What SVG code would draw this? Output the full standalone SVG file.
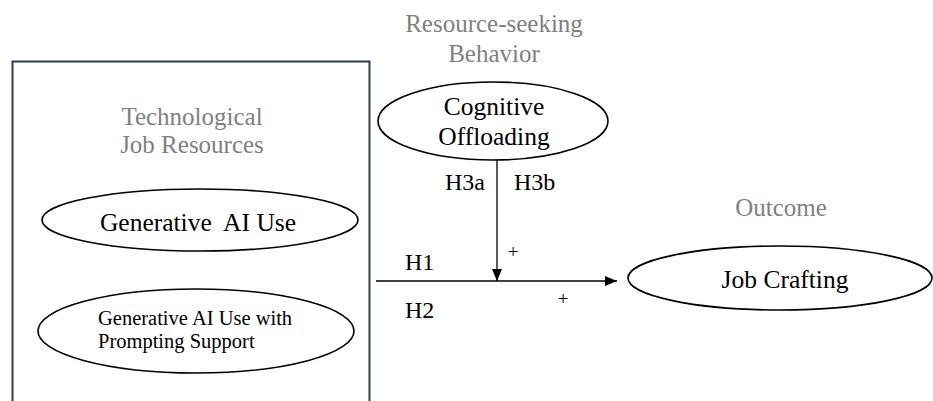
<svg xmlns="http://www.w3.org/2000/svg" width="933" height="401" viewBox="0 0 933 401">
<style>
text{font-family:"Liberation Serif","Times New Roman",serif;fill:#000}
.t{fill:#7f7f7f;font-size:25px}
.n{font-size:25.5px}
.s{font-size:20.5px}
.h{font-size:24px}
.p{font-size:19px}
.e{fill:#fff;stroke:#000;stroke-width:1.6}
.c{stroke:#000;stroke-width:1.3;fill:none}
</style>
<defs>
<marker id="ah" markerWidth="12" markerHeight="10" refX="12" refY="5" orient="auto" markerUnits="userSpaceOnUse">
<path d="M0,0 L12,5 L0,10 Z" fill="#000"/>
</marker>
</defs>
<rect width="933" height="401" fill="#fff"/>
<g id="group-technological">
<path d="M12.5,402 V61.5 H369.5 V402" fill="none" stroke="#2b3a57" stroke-width="2"/>
<text class="t" x="192" y="125" text-anchor="middle">Technological</text>
<text class="t" x="192" y="153" text-anchor="middle">Job Resources</text>
</g>
<g id="node-genai">
<ellipse class="e" cx="200" cy="220" rx="158" ry="31"/>
<text class="n" x="198" y="231" text-anchor="middle" xml:space="preserve">Generative  AI Use</text>
</g>
<g id="node-genai-prompt">
<ellipse class="e" cx="196" cy="331" rx="158" ry="42"/>
<text class="s" x="98" y="325">Generative AI Use with</text>
<text class="s" x="98" y="348">Prompting Support</text>
</g>
<g id="label-resource">
<text class="t" x="494" y="32" text-anchor="middle">Resource-seeking</text>
<text class="t" x="494" y="62" text-anchor="middle">Behavior</text>
</g>
<g id="node-offloading">
<ellipse class="e" cx="493" cy="121" rx="115" ry="39"/>
<text class="n" x="494" y="115" text-anchor="middle">Cognitive</text>
<text class="n" x="494" y="145" text-anchor="middle">Offloading</text>
</g>
<g id="label-outcome">
<text class="t" x="781" y="216" text-anchor="middle">Outcome</text>
</g>
<g id="node-jobcrafting">
<ellipse class="e" cx="780" cy="278" rx="152" ry="32"/>
<text class="n" x="785" y="288" text-anchor="middle">Job Crafting</text>
</g>
<g id="connectors">
<line class="c" x1="376" y1="281" x2="617" y2="281" marker-end="url(#ah)"/>
<line class="c" x1="497" y1="160" x2="497" y2="281" marker-end="url(#ah)"/>
<text class="h" x="445" y="190">H3a</text>
<text class="h" x="514" y="190">H3b</text>
<text class="h" x="405" y="270">H1</text>
<text class="h" x="405" y="318">H2</text>
<text class="p" x="513" y="258" text-anchor="middle">+</text>
<text class="p" x="563" y="305" text-anchor="middle">+</text>
</g>
</svg>
